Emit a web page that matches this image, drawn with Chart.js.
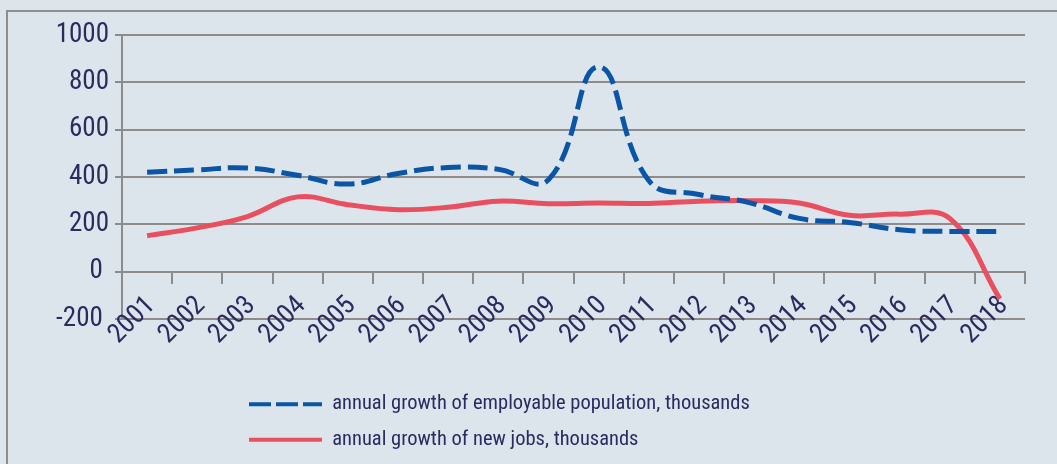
<!DOCTYPE html>
<html>
<head>
<meta charset="utf-8">
<script src="https://cdn.jsdelivr.net/npm/chart.js@4.4.1/dist/chart.umd.min.js"></script>
<style>
  html, body { margin: 0; padding: 0; background: #dde5ec; }
  #wrap { position: relative; width: 1057px; height: 464px; overflow: hidden; background: #dde5ec; }
  #frame { position: absolute; left: 6px; top: 10px; width: 1200px; height: 600px;
           border-left: 2px solid #8e8e8e; border-top: 2px solid #8e8e8e; }
  canvas { position: absolute; left: 0; top: 0; }
</style>
</head>
<body>
<div id="wrap">
  <div id="frame"></div>
  <canvas id="chart" width="1057" height="464"></canvas>
</div>
<script>
// Years on the category axis
const years = ['2001', '2002', '2003', '2004', '2005', '2006', '2007', '2008', '2009',
               '2010', '2011', '2012', '2013', '2014', '2015', '2016', '2017', '2018'];

// Annual growth of employable population, thousands
const populationGrowth = [420, 430, 438, 407, 370, 415, 440, 433, 388,
                          865, 385, 326, 292, 225, 208, 177, 170, 170];

// Annual growth of new jobs, thousands
const newJobsGrowth = [152, 185, 233, 316, 283, 262, 272, 298, 287,
                       290, 288, 298, 300, 290, 238, 243, 225, -115];

// Value axis range and step
const yMin = -200;
const yMax = 1000;
const yStep = 200;

const seriesNames = ['annual growth of employable population, thousands',
                     'annual growth of new jobs, thousands'];

const FONT = "'Roboto Condensed', 'Liberation Sans', sans-serif";
const TEXT = '#2b2b60';
const GRID = '#8c8c8c';

// Legend block under the plot; year labels lifted so they start at the -200 line
const layoutTweaks = {
  id: 'layoutTweaks',
  afterLayout(chart) {
    const lg = chart.legend;
    if (lg) {
      const w = lg.width, h = lg.height;
      lg.left = 234;
      lg.top = 379;
      lg.right = lg.left + w;
      lg.bottom = lg.top + h;
    }
    const xl = chart.scales.xl;
    if (xl) {
      xl.top -= 29;
    }
  }
};

new Chart(document.getElementById('chart'), {
  type: 'line',
  data: {
    labels: years,
    datasets: [
      {
        label: seriesNames[0],
        data: populationGrowth,
        xAxisID: 'x',
        yAxisID: 'y',
        borderColor: '#0b55a6',
        backgroundColor: '#0b55a6',
        borderWidth: 5,
        borderDash: [20, 7],
        borderCapStyle: 'butt',
        pointRadius: 0,
        pointHoverRadius: 0,
        tension: 0.45,
        fill: false
      },
      {
        label: seriesNames[1],
        data: newJobsGrowth,
        xAxisID: 'x',
        yAxisID: 'y',
        borderColor: '#e9505f',
        backgroundColor: '#e9505f',
        borderWidth: 5,
        borderCapStyle: 'butt',
        pointRadius: 0,
        pointHoverRadius: 0,
        tension: 0.4,
        fill: false
      }
    ]
  },
  options: {
    responsive: false,
    animation: false,
    devicePixelRatio: 1,
    layout: { padding: { top: 35, right: 32, bottom: 85, left: 0 } },
    plugins: {
      tooltip: { enabled: false },
      legend: {
        position: 'chartArea',
        align: 'start',
        labels: {
          usePointStyle: true,
          pointStyle: 'line',
          pointStyleWidth: 73,
          color: TEXT,
          font: { family: FONT, size: 20.5 },
          padding: 15,
          generateLabels(chart) {
            const items = Chart.defaults.plugins.legend.labels.generateLabels(chart);
            items.forEach((it, i) => {
              it.lineWidth = 4;
              it.lineDash = i === 0 ? [22, 5] : [];
              it.pointStyle = 'line';
            });
            return items;
          }
        }
      }
    },
    scales: {
      y: {
        min: yMin,
        max: yMax,
        position: 'left',
        ticks: {
          stepSize: yStep,
          color: TEXT,
          font: { family: FONT, size: 27 },
          padding: 6,
          // number format keeps a trailing space on zero and negative values
          callback: (v) => (v <= 0 ? v + ' ' : String(v))
        },
        grid: { color: GRID, lineWidth: 2, tickLength: 7, drawTicks: true },
        border: { color: GRID, width: 2 },
        afterFit(scale) { scale.width = 122; }
      },
      x: {
        type: 'category',
        position: { y: 0 },
        offset: true,
        ticks: { display: false },
        grid: { offset: true, drawOnChartArea: false, drawTicks: true, tickLength: 11, color: GRID, lineWidth: 2 },
        border: { display: true, color: GRID, width: 2 }
      },
      xl: {
        type: 'category',
        labels: years,
        position: 'bottom',
        offset: true,
        grid: { display: false, drawTicks: false, tickLength: 0 },
        border: { display: false },
        ticks: {
          color: TEXT,
          font: { family: FONT, size: 27 },
          minRotation: 45,
          maxRotation: 45,
          autoSkip: false,
          labelOffset: 4,
          padding: 0
        },
        afterFit(scale) { scale.height = 60; }
      }
    }
  },
  plugins: [layoutTweaks]
});
</script>
</body>
</html>
